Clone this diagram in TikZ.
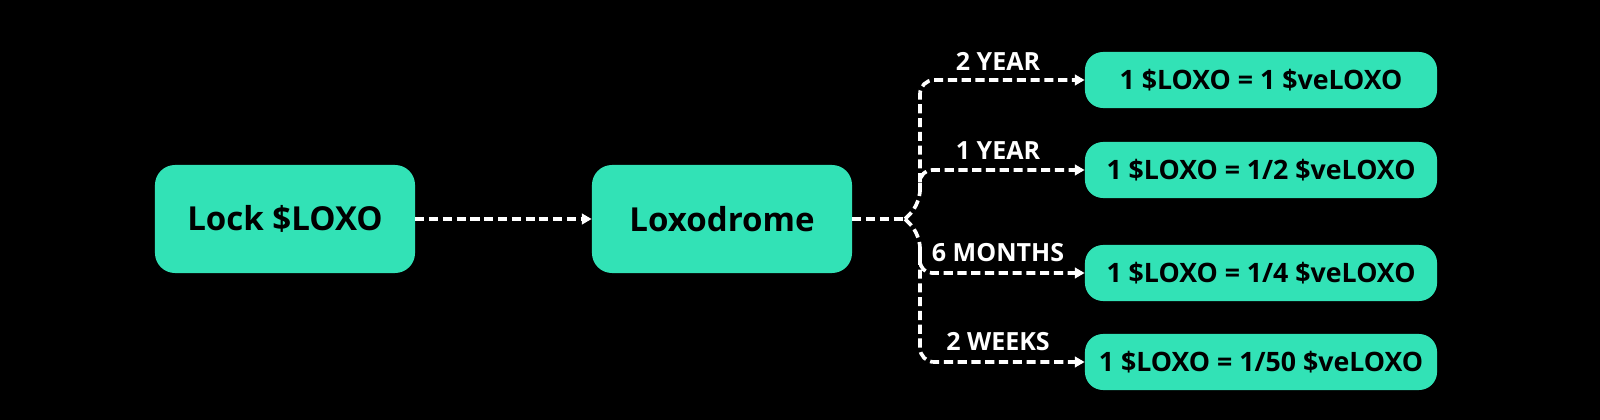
\documentclass[tikz,border=0pt]{standalone}
\usepackage{fontspec}
\setmainfont{Open Sans}
\usetikzlibrary{arrows.meta}
\usetikzlibrary{positioning}

\definecolor{loxogreen}{RGB}{50,226,182}

\tikzset{
box/.style={fill=loxogreen, rounded corners=0.5cm, text=black, font=\fontsize{23.5}{26}\selectfont\bfseries, inner sep=0pt},
ratebox/.style={fill=loxogreen, rounded corners=0.45cm, text=black, font=\fontsize{19}{21}\selectfont\bfseries, inner sep=0pt, minimum width=8.8cm, minimum height=1.4cm},
link/.style={draw=white, line width=2.6pt, dash pattern=on 6.5pt off 3.3pt},
tip/.style={-{Triangle[length=7pt,width=7.5pt]}},
lbl/.style={text=white, font=\fontsize{17.8}{20}\selectfont\bfseries, inner sep=0pt}
}

\begin{document}
\begin{tikzpicture}[x=0.025cm, y=-0.025cm]
%background
\fill[black] (0,0) rectangle (1600,420);

%main boxes
\node[box, minimum width=6.5cm, minimum height=2.7cm] (lock) at (285,219) {Lock \$LOXO};
\node[box, minimum width=6.5cm, minimum height=2.7cm] (loxo) at (722,219) {Loxodrome};

%rate boxes
\node[ratebox] (r1) at (1261,80) {1 \$LOXO = 1 \$veLOXO};
\node[ratebox] (r2) at (1261,170) {1 \$LOXO = 1/2 \$veLOXO};
\node[ratebox] (r3) at (1261,273) {1 \$LOXO = 1/4 \$veLOXO};
\node[ratebox] (r4) at (1261,362) {1 \$LOXO = 1/50 \$veLOXO};

%labels
\node[lbl] (l1) at (998,61) {2 YEAR};
\node[lbl] (l2) at (998,151) {1 YEAR};
\node[lbl] (l3) at (998,253) {6 MONTHS};
\node[lbl] (l4) at (998,342) {2 WEEKS};

\coordinate (split) at (905,219);

%arrows
\draw[link, tip] (lock.east) -- (loxo.west);
\draw[link] (loxo.east) -- (split);
\draw[link, tip, rounded corners=0.35cm] (split) -- (920,204) -- (920,80) -- (r1.west);
\draw[link, tip, rounded corners=0.3cm] (920,192) -- (920,170) -- (r2.west);
\draw[link, tip, rounded corners=0.3cm] (920,250) -- (920,273) -- (r3.west);
\draw[link, tip, rounded corners=0.35cm] (split) -- (920,234) -- (920,362) -- (r4.west);

\end{tikzpicture}
\end{document}
